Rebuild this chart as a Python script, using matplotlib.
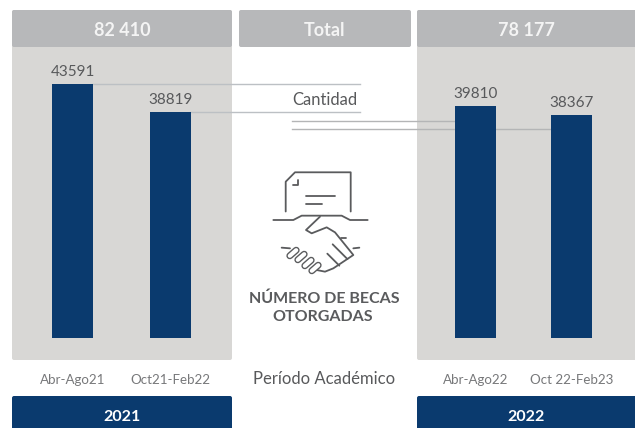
import matplotlib
matplotlib.use('Agg')
import matplotlib.pyplot as plt
from matplotlib.patches import FancyBboxPatch

plt.rcParams['font.family'] = ['Lato', 'DejaVu Sans']

# Datos
periodos_2021 = ['Abr-Ago21', 'Oct21-Feb22']
periodos_2022 = ['Abr-Ago22', 'Oct 22-Feb23']
becas_2021 = [43591, 38819]
becas_2022 = [39810, 38367]
total_2021 = '82 410'
total_2022 = '78 177'

GRIS_PANEL = '#d8d7d5'
GRIS_CAB = '#b7b8ba'
AZUL = '#0a3a6e'
TEXTO = '#58595b'
LINEA = '#bcc0c4'
ICONO = '#5a5b5d'

W, H = 635, 428
fig = plt.figure(figsize=(W / 100, H / 100), dpi=100)

# capa de fondo en pixeles
bg = fig.add_axes([0, 0, 1, 1])
bg.set_xlim(0, W)
bg.set_ylim(H, 0)
bg.axis('off')


def caja(x0, y0, x1, y1, color, z=1):
    bg.add_patch(FancyBboxPatch((x0 + 2, y0 + 2), x1 - x0 - 4, y1 - y0 - 4,
                                boxstyle='round,pad=2,rounding_size=2',
                                fc=color, ec='none', zorder=z))


caja(12, 10, 232, 360, GRIS_PANEL)
caja(417, 10, 650, 360, GRIS_PANEL)
caja(12, 10, 232, 47, GRIS_CAB, 2)
caja(239, 10, 411, 47, GRIS_CAB, 2)
caja(417, 10, 650, 47, GRIS_CAB, 2)
caja(12, 396, 232, 445, AZUL, 2)
caja(417, 396, 650, 445, AZUL, 2)

for x, s in [(122, total_2021), (324.5, 'Total'), (526, total_2022)]:
    bg.text(x, 30.5, s, color='#f4f4f4', fontsize=13, fontweight='bold',
            ha='center', va='center', zorder=3)
for x, s in [(122, '2021'), (526, '2022')]:
    bg.text(x, 417, s, color='white', fontsize=11.5, fontweight='bold',
            ha='center', va='center', zorder=3)

# Cantidad y lineas del centro
bg.text(324.5, 100, 'Cantidad', color=TEXTO, fontsize=12, ha='center', va='center', zorder=3)
bg.text(324.5, 379, 'Período Académico', color=TEXTO, fontsize=12, ha='center', va='center', zorder=3)
for y, x1 in [(120.7, 455), (129.3, 551)]:
    bg.plot([292, x1], [y, y], color='#b4b5b6', lw=1, zorder=3)

tr = dict(color=ICONO, lw=1.3, solid_capstyle='round', solid_joinstyle='round', zorder=3)


# coordenadas del recorte ampliado (x3) del icono
def trazo(xs, ys):
    bg.plot([270 + v / 3 for v in xs], [205 + v / 3 for v in ys], **tr)


# documento
bg.plot([285.7, 285.7, 295, 350.7, 350.7], [211.5, 181.7, 172.3, 172.3, 211.5], **tr)
bg.plot([297.7, 297.7, 293.3], [180, 185, 185], **tr)
bg.plot([306, 335], [195.7, 195.7], **tr)
bg.plot([306, 322.3], [204.3, 204.3], **tr)
# mesa y manos
trazo([10, 70, 95, 215, 240, 293], [45, 45, 32, 32, 45, 45])
trazo([150, 108, 125, 170, 195, 250, 232], [35, 75, 85, 67, 82, 150, 162])
trazo([212, 228], [100, 100])
trazo([250, 268], [130, 128])
trazo([188, 232], [118, 162])
trazo([172, 208], [146, 182])
trazo([232, 190, 165, 140], [162, 190, 200, 195])
trazo([35, 60], [128, 130])
for cx, cy in [(293, 253), (301, 257), (308, 263), (315, 268)]:
    xs = [cx - 3.2, cx + 3.2]
    ys = [cy + 2.8, cy - 2.8]
    bg.plot(xs, ys, color=ICONO, lw=5, solid_capstyle='round', zorder=3)
    bg.plot(xs, ys, color='white', lw=3, solid_capstyle='round', zorder=3)

bg.text(324.5, 299, 'NÚMERO DE BECAS', color=ICONO, fontsize=11.5, fontweight='bold',
        ha='center', va='center', zorder=3)
bg.text(322.5, 317, 'OTORGADAS', color=ICONO, fontsize=11.5, fontweight='bold',
        ha='center', va='center', zorder=3)


def panel(x0, x1, c0, c1, periodos, valores):
    # eje con la misma escala en ambos paneles: base en y=338, tope en y=47
    ax = fig.add_axes([x0 / W, (H - 338) / H, (x1 - x0) / W, 291 / H])
    ax.patch.set_alpha(0)
    paso = c1 - c0
    ax.set_xlim((x0 - c0) / paso, (x1 - c0) / paso)
    ax.set_ylim(0, 50000)
    ax.bar([0, 1], valores, width=41 / paso, color=AZUL, zorder=4)
    for i, v in enumerate(valores):
        ax.text(i, v + 850, str(v), color=TEXTO, fontsize=11, ha='center', va='bottom', zorder=5)
    ax.set_xticks([0, 1])
    ax.set_xticklabels(periodos, color='#77787a', fontsize=9.6)
    ax.tick_params(axis='x', length=0, pad=26)
    ax.set_yticks([])
    for s in ax.spines.values():
        s.set_visible(False)
    return ax, paso


ax1, paso1 = panel(12, 232, 72.5, 170.5, periodos_2021, becas_2021)
ax2, paso2 = panel(417, 635, 475.5, 571.5, periodos_2022, becas_2022)

# lineas guia desde cada barra de 2021 hasta la columna central
for i, v in enumerate(becas_2021):
    ax1.plot([i + 20 / paso1, (360 - 72.5) / paso1], [v, v], color=LINEA, lw=1,
             clip_on=False, zorder=3)

fig.savefig('out.png', dpi=100)
